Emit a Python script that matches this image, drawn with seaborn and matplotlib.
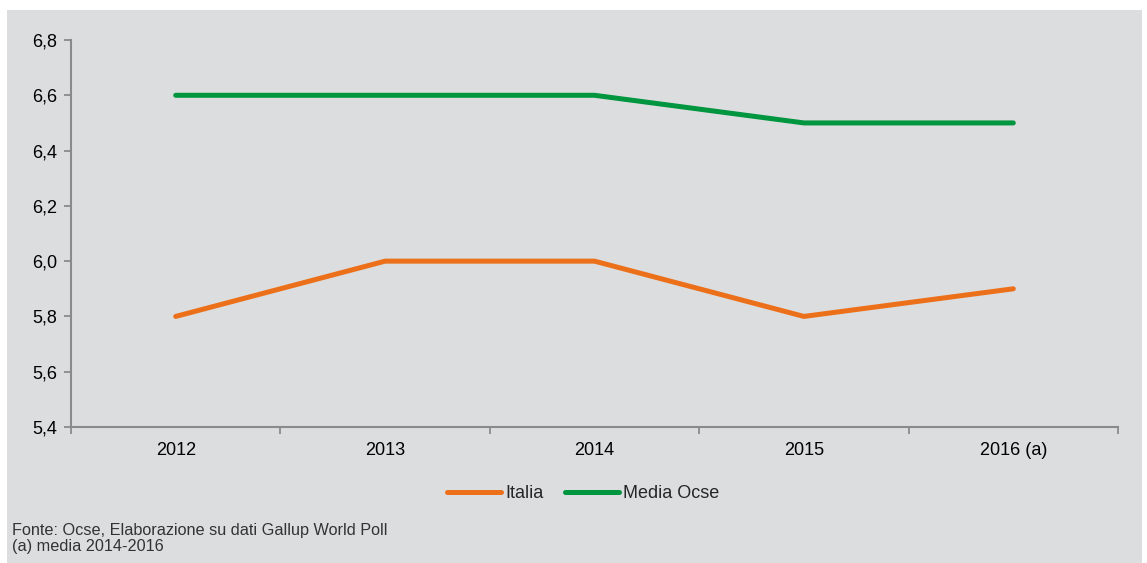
import matplotlib
matplotlib.use("Agg")
import matplotlib.pyplot as plt
from matplotlib.patches import Rectangle
from matplotlib.lines import Line2D
import numpy as np
import pandas as pd
import seaborn as sns

years = ["2012", "2013", "2014", "2015", "2016 (a)"]
italia = [5.8, 6.0, 6.0, 5.8, 5.9]
media_ocse = [6.6, 6.6, 6.6, 6.5, 6.5]
y_ticks = [5.4, 5.6, 5.8, 6.0, 6.2, 6.4, 6.6, 6.8]

bg = "#DCDDDF"
col_it = "#EC7019"
col_oc = "#00953F"
axis_col = "#8A8A8A"

sns.set_theme(style="white")
plt.rcParams['font.family'] = ['Liberation Sans', 'DejaVu Sans']

df = pd.DataFrame({
    "pos": list(range(len(years))) * 2,
    "valore": italia + media_ocse,
    "serie": ["Italia"] * len(years) + ["Media Ocse"] * len(years),
})

fig = plt.figure(figsize=(11.47, 5.63), dpi=100)
fig.patch.set_facecolor("white")
bg_rect = Rectangle((7 / 1147, 0), (1142 - 7) / 1147, 553 / 563,
                    transform=fig.transFigure, facecolor=bg,
                    edgecolor="none", zorder=-10)
fig.patches.append(bg_rect)

ax = fig.add_axes([71 / 1147, 1 - 427 / 563, (1118 - 71) / 1147, (427 - 40) / 563])
ax.patch.set_alpha(0)

sns.lineplot(data=df, x="pos", y="valore", hue="serie",
             palette={"Italia": col_it, "Media Ocse": col_oc},
             linewidth=3.6, ax=ax, legend=False)
for l in ax.lines:
    l.set_solid_capstyle("round")

ax.set_xlim(-0.5, len(years) - 0.5)
ax.set_ylim(5.4, 6.8)
ax.set_yticks(y_ticks)
ax.set_yticklabels([f"{v:.1f}".replace(".", ",") for v in y_ticks], fontsize=13)
ax.set_xticks(range(len(years)))
ax.set_xticklabels(years, fontsize=13)
ax.set_xticks(np.arange(-0.5, len(years)), minor=True)
ax.tick_params(axis="x", which="major", bottom=True, length=0, pad=11, colors="black")
ax.tick_params(axis="x", which="minor", bottom=True, length=5, width=1.3,
               color=axis_col, direction="out")
ax.tick_params(axis="y", left=True, length=5, width=1.3, color=axis_col,
               direction="out", pad=5, labelcolor="black")
ax.set_xlabel("")
ax.set_ylabel("")

for s in ["top", "right"]:
    ax.spines[s].set_visible(False)
for s in ["left", "bottom"]:
    ax.spines[s].set_color(axis_col)
    ax.spines[s].set_linewidth(1.5)

handles = [Line2D([], [], color=col_it, lw=3.6, solid_capstyle="round"),
           Line2D([], [], color=col_oc, lw=3.6, solid_capstyle="round")]
fig.legend(handles, ["Italia", "Media Ocse"], loc="center",
           bbox_to_anchor=(583 / 1147, 1 - 494 / 563), ncol=2, frameon=False,
           fontsize=13, handlelength=3.0, handletextpad=0.2, columnspacing=1.2)

fig.text(12 / 1147, 1 - 530 / 563, "Fonte: Ocse, Elaborazione su dati Gallup World Poll",
         fontsize=11.7, va="center", ha="left", color="#333333")
fig.text(12 / 1147, 1 - 547 / 563, "(a) media 2014-2016",
         fontsize=11.7, va="center", ha="left", color="#333333")

fig.savefig("out.png", dpi=100, facecolor="white")
